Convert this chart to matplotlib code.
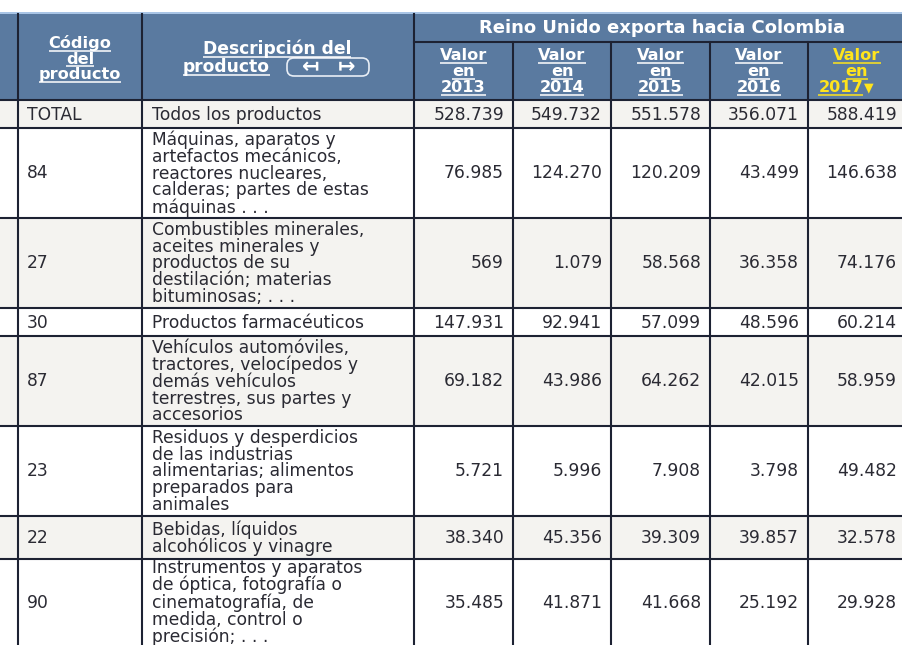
import matplotlib
matplotlib.use('Agg')
import matplotlib.pyplot as plt
from matplotlib.patches import Rectangle, FancyBboxPatch

#%% datos de la tabla
codigos = ['TOTAL', '84', '27', '30', '87', '23', '22', '90']
descripciones = [
    'Todos los productos',
    'Máquinas, aparatos y\nartefactos mecánicos,\nreactores nucleares,\ncalderas; partes de estas\nmáquinas . . .',
    'Combustibles minerales,\naceites minerales y\nproductos de su\ndestilación; materias\nbituminosas; . . .',
    'Productos farmacéuticos',
    'Vehículos automóviles,\ntractores, velocípedos y\ndemás vehículos\nterrestres, sus partes y\naccesorios',
    'Residuos y desperdicios\nde las industrias\nalimentarias; alimentos\npreparados para\nanimales',
    'Bebidas, líquidos\nalcohólicos y vinagre',
    'Instrumentos y aparatos\nde óptica, fotografía o\ncinematografía, de\nmedida, control o\nprecisión; . . .',
]
anios = ['2013', '2014', '2015', '2016', '2017']
valor_2013 = [528739, 76985, 569, 147931, 69182, 5721, 38340, 35485]
valor_2014 = [549732, 124270, 1079, 92941, 43986, 5996, 45356, 41871]
valor_2015 = [551578, 120209, 58568, 57099, 64262, 7908, 39309, 41668]
valor_2016 = [356071, 43499, 36358, 48596, 42015, 3798, 39857, 25192]
valor_2017 = [588419, 146638, 74176, 60214, 58959, 49482, 32578, 29928]
valores = [valor_2013, valor_2014, valor_2015, valor_2016, valor_2017]
titulo = 'Reino Unido exporta hacia Colombia'

#%% geometria (pixeles)
col_x = [0, 18, 142, 414, 513, 611, 710, 808, 906]
fila_y = [100, 128, 218, 308, 336, 426, 516, 559, 645]
azul = '#5a7aa0'
linea = '#1d2233'
gris = '#f4f3f0'
txt = '#2a2a33'
amarillo = '#ffe41c'

plt.rcParams['font.family'] = ['DejaVu Sans']

fig = plt.figure(figsize=(9.02, 6.45), dpi=100)
ax = fig.add_axes([0, 0, 1, 1])
ax.set_xlim(0, 902)
ax.set_ylim(645, 0)
ax.axis('off')

def fmt(v):
    return f'{v:,}'.replace(',', '.')

# fondo encabezado
ax.add_patch(Rectangle((0, 11.5), 906, 3, color='#a9c5e6', lw=0))
ax.add_patch(Rectangle((0, 14), 906, 86, color=azul, lw=0))

# filas
fs = 12.3
for i in range(len(codigos)):
    y0, y1 = fila_y[i], fila_y[i + 1]
    fc = gris if i % 2 == 0 else 'white'
    ax.add_patch(Rectangle((0, y0), 906, y1 - y0 + 2, color=fc, lw=0))
    yc = (y0 + y1) / 2 + 0.5
    ax.text(27, yc, codigos[i], ha='left', va='center', fontsize=fs, color=txt)
    ax.text(152, yc, descripciones[i], ha='left', va='center', fontsize=fs,
            color=txt, linespacing=0.92, multialignment='left')
    for j, serie in enumerate(valores):
        ax.text(col_x[j + 4] - 9, yc, fmt(serie[i]), ha='right', va='center',
                fontsize=fs, color=txt)

# lineas de la tabla
lw = 1.5
for x in col_x[1:4]:
    ax.plot([x, x], [14, 647], color=linea, lw=lw)
for x in col_x[4:8]:
    ax.plot([x, x], [42, 647], color=linea, lw=lw)
ax.plot([col_x[3], 906], [42, 42], color=linea, lw=lw)
for y in fila_y[:-1]:
    ax.plot([0, 906], [y, y], color=linea, lw=lw)

# textos del encabezado
subrayar = []
def cab(x, y, s, color='white', ha='center', under=True, size=11.6):
    t = ax.text(x, y, s, ha=ha, va='baseline', color=color, fontsize=size,
                fontweight='bold')
    if under:
        subrayar.append((t, color))
    return t

ax.text((col_x[3] + 906) / 2 + 2, 33, titulo, ha='center', va='baseline',
        color='white', fontsize=13, fontweight='bold')

xc = (col_x[1] + col_x[2]) / 2
cab(xc, 48, 'Código')
cab(xc, 63.5, 'del')
cab(xc, 79, 'producto')

cab(277, 54, 'Descripción del', size=12.3)
cab(183, 72, 'producto', ha='left', size=12.3)
ax.add_patch(FancyBboxPatch((287, 58), 82, 18, boxstyle='round,pad=0,rounding_size=7',
                            fc='none', ec='#e8eef6', lw=1.2))
ax.text(311, 73, '\u21a4', ha='center', va='baseline', color='white', fontsize=15,
        fontweight='bold')
ax.text(347, 73, '\u21a6', ha='center', va='baseline', color='white', fontsize=15,
        fontweight='bold')

for j, a in enumerate(anios):
    xc = (col_x[j + 3] + col_x[j + 4]) / 2
    c = amarillo if j == len(anios) - 1 else 'white'
    cab(xc, 60, 'Valor', color=c)
    cab(xc, 76, 'en', color=c)
    if j == len(anios) - 1:
        cab(xc + 6, 92, a, color=c, ha='right')
        ax.text(xc + 7, 91, '\u25bc', ha='left', va='baseline', color=c, fontsize=9)
    else:
        cab(xc, 92, a, color=c)

# subrayados
fig.canvas.draw()
r = fig.canvas.get_renderer()
inv = ax.transData.inverted()
for t, c in subrayar:
    bb = t.get_window_extent(r)
    x0 = inv.transform((bb.x0, bb.y0))[0]
    x1 = inv.transform((bb.x1, bb.y0))[0]
    y = t.get_position()[1] + 2.5
    ax.plot([x0, x1], [y, y], color=c, lw=1.1, solid_capstyle='butt')

fig.savefig('out.png', dpi=100)
